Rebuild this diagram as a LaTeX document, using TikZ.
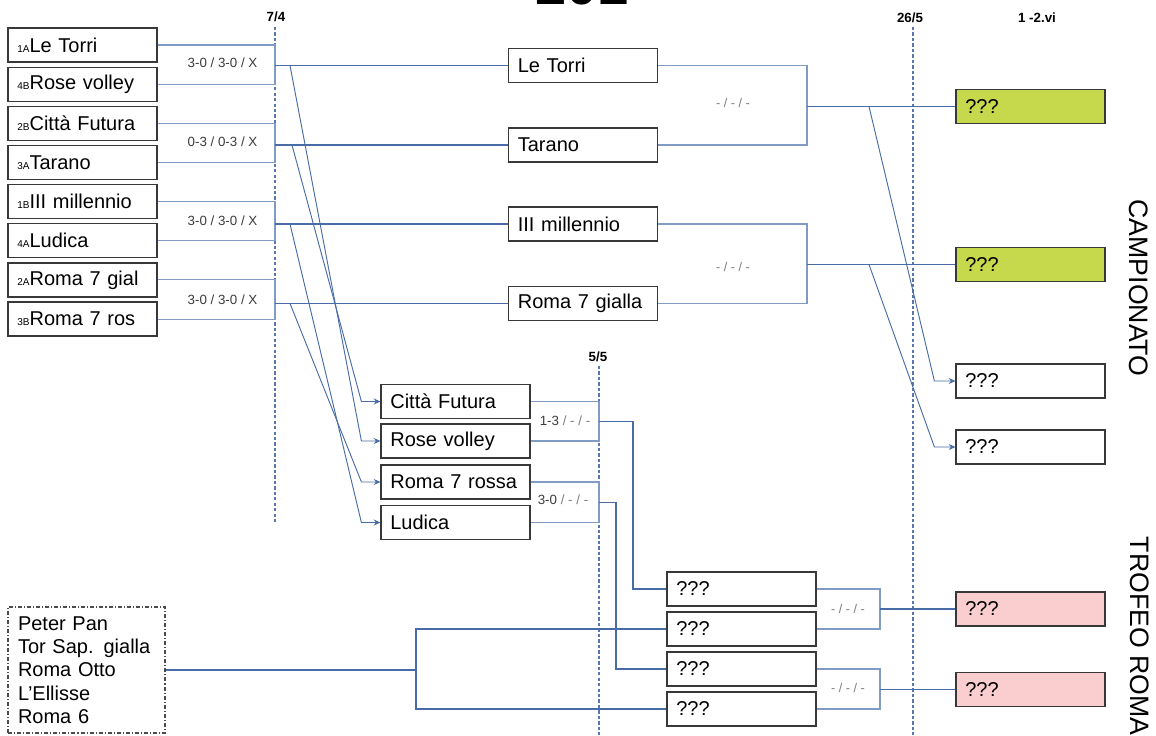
\documentclass[tikz,border=0pt]{standalone}
\usepackage{fontspec}
\setmainfont{Liberation Sans}
\usetikzlibrary{arrows.meta,calc}
\definecolor{lnblue}{RGB}{72,108,165}
\definecolor{brblue}{RGB}{128,156,196}
\definecolor{dateblue}{RGB}{88,118,175}
\definecolor{boxgreen}{RGB}{198,216,76}
\definecolor{boxpink}{RGB}{250,206,206}
\definecolor{scoregray}{RGB}{60,60,60}
\definecolor{dashgray}{RGB}{125,125,125}
\newcommand\grp[1]{{\fontsize{7.5}{8}\selectfont #1}}
\begin{document}
\begin{tikzpicture}[x=0.75pt,y=-0.75pt,
  team/.style={draw=black!78,line width=0.9pt,fill=white,minimum width=111.75pt,
    minimum height=25.5pt,text width=97.75pt,inner xsep=7pt,inner ysep=0pt,
    align=left,font=\fontsize{15}{18}\selectfont},
  greenbox/.style={team,fill=boxgreen},
  pinkbox/.style={team,fill=boxpink},
  bracket/.style={draw=brblue,line width=0.8pt},
  outline/.style={draw=lnblue,line width=1.05pt},
  diag/.style={draw=lnblue,line width=0.7pt,-{Stealth[length=5pt,width=4.5pt]}},
  dateline/.style={draw=dateblue,line width=0.8pt,dash pattern=on 2.5pt off 1.6pt},
  score/.style={inner sep=0pt,text=scoregray,font=\fontsize{10}{12}\selectfont},
  nil/.style={inner sep=0pt,text=dashgray,font=\fontsize{9.5}{12}\selectfont},
  datelbl/.style={inner sep=0pt,font=\bfseries\fontsize{10}{12}\selectfont},
  side/.style={rotate=-90,inner sep=0pt,font=\fontsize{20}{24}\selectfont},
  pplist/.style={draw=black!70,line width=0.8pt,dash pattern=on 3pt off 1.5pt on 0.8pt off 1.5pt,
    minimum width=117.75pt,minimum height=94.5pt,text width=102.75pt,inner xsep=7.5pt,
    align=left,font=\fontsize{15}{17.5}\selectfont}
]
\fill[white] (0,0) rectangle (1156,735);
\useasboundingbox (0,0) rectangle (1156,735);

% title (cut off by the top edge)
\begin{scope}
\clip (0,0) rectangle (1156,735);
\node[anchor=base,inner sep=0pt,font=\bfseries\fontsize{42}{48}\selectfont] (title) at (582,5) {201};
\end{scope}

% reference columns
\coordinate (x74) at (275,0);
\coordinate (x55) at (599,0);
\coordinate (x265) at (913,0);
\coordinate (xs) at (807,0);
\coordinate (xt) at (880,0);
\coordinate (xpp) at (416,0);

% date lines
\node[datelbl] (l74) at (276,17) {7/4};
\node[datelbl] (l55) at (598,357) {5/5};
\node[datelbl] (l265) at (910,18) {26/5};
\node[datelbl] (l12) at (1037,18) {1 -2.vi};
\coordinate (d74a) at (275,27);  \coordinate (d74b) at (275,522);
\coordinate (d55a) at (599,366); \coordinate (d55b) at (599,735);
\coordinate (d265a) at (913,27); \coordinate (d265b) at (913,735);
\draw[dateline] (d74a) -- (d74b);
\draw[dateline] (d55a) -- (d55b);
\draw[dateline] (d265a) -- (d265b);

% first round
\node[team] (a1) at (82.5,45)    {\grp{1A}Le Torri};
\node[team] (a2) at (82.5,84.15) {\grp{4B}Rose volley};
\node[team] (a3) at (82.5,123.3) {\grp{2B}Città Futura};
\node[team] (a4) at (82.5,162.45){\grp{3A}Tarano};
\node[team] (a5) at (82.5,201.6) {\grp{1B}III millennio};
\node[team] (a6) at (82.5,240.75){\grp{4A}Ludica};
\node[team] (a7) at (82.5,279.9) {\grp{2A}Roma 7 gial};
\node[team] (a8) at (82.5,319.05){\grp{3B}Roma 7 ros};

% semifinal
\node[team] (s1) at (583,65.5)  {Le Torri};
\node[team] (s2) at (583,145)   {Tarano};
\node[team] (s3) at (583,224)   {III millennio};
\node[team] (s4) at (583,303.5) {Roma 7 gialla};

% trofeo
\node[team] (t1) at (455.5,401.5) {Città Futura};
\node[team] (t2) at (455.5,441)   {Rose volley};
\node[team] (t3) at (455.5,482)   {Roma 7 rossa};
\node[team] (t4) at (455.5,522.5) {Ludica};

\node[team] (b1) at (741.5,589) {???};
\node[team] (b2) at (741.5,629) {???};
\node[team] (b3) at (741.5,669) {???};
\node[team] (b4) at (741.5,709) {???};

% finals
\node[greenbox] (g1) at (1030.5,106.5) {???};
\node[greenbox] (g2) at (1030.5,264.5) {???};
\node[team] (w1) at (1030.5,381) {???};
\node[team] (w2) at (1030.5,447) {???};
\node[pinkbox] (p1) at (1030.5,609) {???};
\node[pinkbox] (p2) at (1030.5,689.5) {???};

\node[pplist] (pp) at (86.5,670) {Peter Pan\\Tor Sap. gialla\\Roma Otto\\L’Ellisse\\Roma 6};

% first round brackets
\foreach \u/\v/\s in {a1/a2/s1,a3/a4/s2,a5/a6/s3,a7/a8/s4}{
  \draw[bracket] (\u.east) -- (\u.east -| x74) -- (\v.east -| x74) -- (\v.east);
  \draw[outline] (\s.west -| x74) -- (\s.west);
}
\node[score] (sc1) at (222.5,63)  {3-0 / 3-0 / X};
\node[score] (sc2) at (222.5,142) {0-3 / 0-3 / X};
\node[score] (sc3) at (222.5,221) {3-0 / 3-0 / X};
\node[score] (sc4) at (222.5,300) {3-0 / 3-0 / X};

% losers to trofeo
\draw[diag] ($(s1.west -| x74)+(15,0)$) -- ($(t2.west)+(-19,0)$) -- (t2.west);
\draw[diag] ($(s2.west -| x74)+(17,0)$) -- ($(t1.west)+(-19,0)$) -- (t1.west);
\draw[diag] ($(s3.west -| x74)+(15,0)$) -- ($(t4.west)+(-19,0)$) -- (t4.west);
\draw[diag] ($(s4.west -| x74)+(15,0)$) -- ($(t3.west)+(-19,0)$) -- (t3.west);

% trofeo brackets
\draw[bracket] (t1.east) -- (t1.east -| x55) -- (t2.east -| x55) -- (t2.east);
\coordinate (m12) at ($(t1.east -| x55)!0.5!(t2.east -| x55)$);
\draw[outline] (m12) -- ++(34,0) |- (b1.west);
\draw[bracket] (t3.east) -- (t3.east -| x55) -- (t4.east -| x55) -- (t4.east);
\coordinate (m34) at ($(t3.east -| x55)!0.5!(t4.east -| x55)$);
\draw[outline] (m34) -- ++(17,0) |- (b3.west);
\node[score] (sc5) at (565,421) {1-3 \textcolor{dashgray}{/ - / -}};
\node[score] (sc6) at (563,500) {3-0 \textcolor{dashgray}{/ - / -}};

% peter pan group
\draw[outline] (pp.east) -- (pp.east -| xpp);
\draw[outline] (b2.west) -- (b2.west -| xpp) -- (b4.west -| xpp) -- (b4.west);

% semifinal brackets
\draw[bracket] (s1.east) -- (s1.east -| xs) -- (s2.east -| xs) -- (s2.east);
\draw[outline] (g1.west -| xs) -- (g1.west);
\draw[bracket] (s3.east) -- (s3.east -| xs) -- (s4.east -| xs) -- (s4.east);
\draw[outline] (g2.west -| xs) -- (g2.west);
\node[nil] (n1) at (733,103) {- / - / -};
\node[nil] (n2) at (733,267) {- / - / -};
\draw[diag] ($(g1.west -| xs)+(62,0)$) -- ($(w1.west)+(-21,0)$) -- (w1.west);
\draw[diag] ($(g2.west -| xs)+(62,0)$) -- ($(w2.west)+(-21,0)$) -- (w2.west);

% trofeo finals
\draw[bracket] (b1.east) -- (b1.east -| xt) -- (b2.east -| xt) -- (b2.east);
\draw[outline] (p1.west -| xt) -- (p1.west);
\draw[bracket] (b3.east) -- (b3.east -| xt) -- (b4.east -| xt) -- (b4.east);
\draw[outline] (p2.west -| xt) -- (p2.west);
\node[nil] (n3) at (848,609) {- / - / -};
\node[nil] (n4) at (848,688) {- / - / -};

% side labels
\node[side] (camp) at (1139,288) {CAMPIONATO};
\node[side] (trof) at (1140,636) {TROFEO ROMA};
\end{tikzpicture}
\end{document}
